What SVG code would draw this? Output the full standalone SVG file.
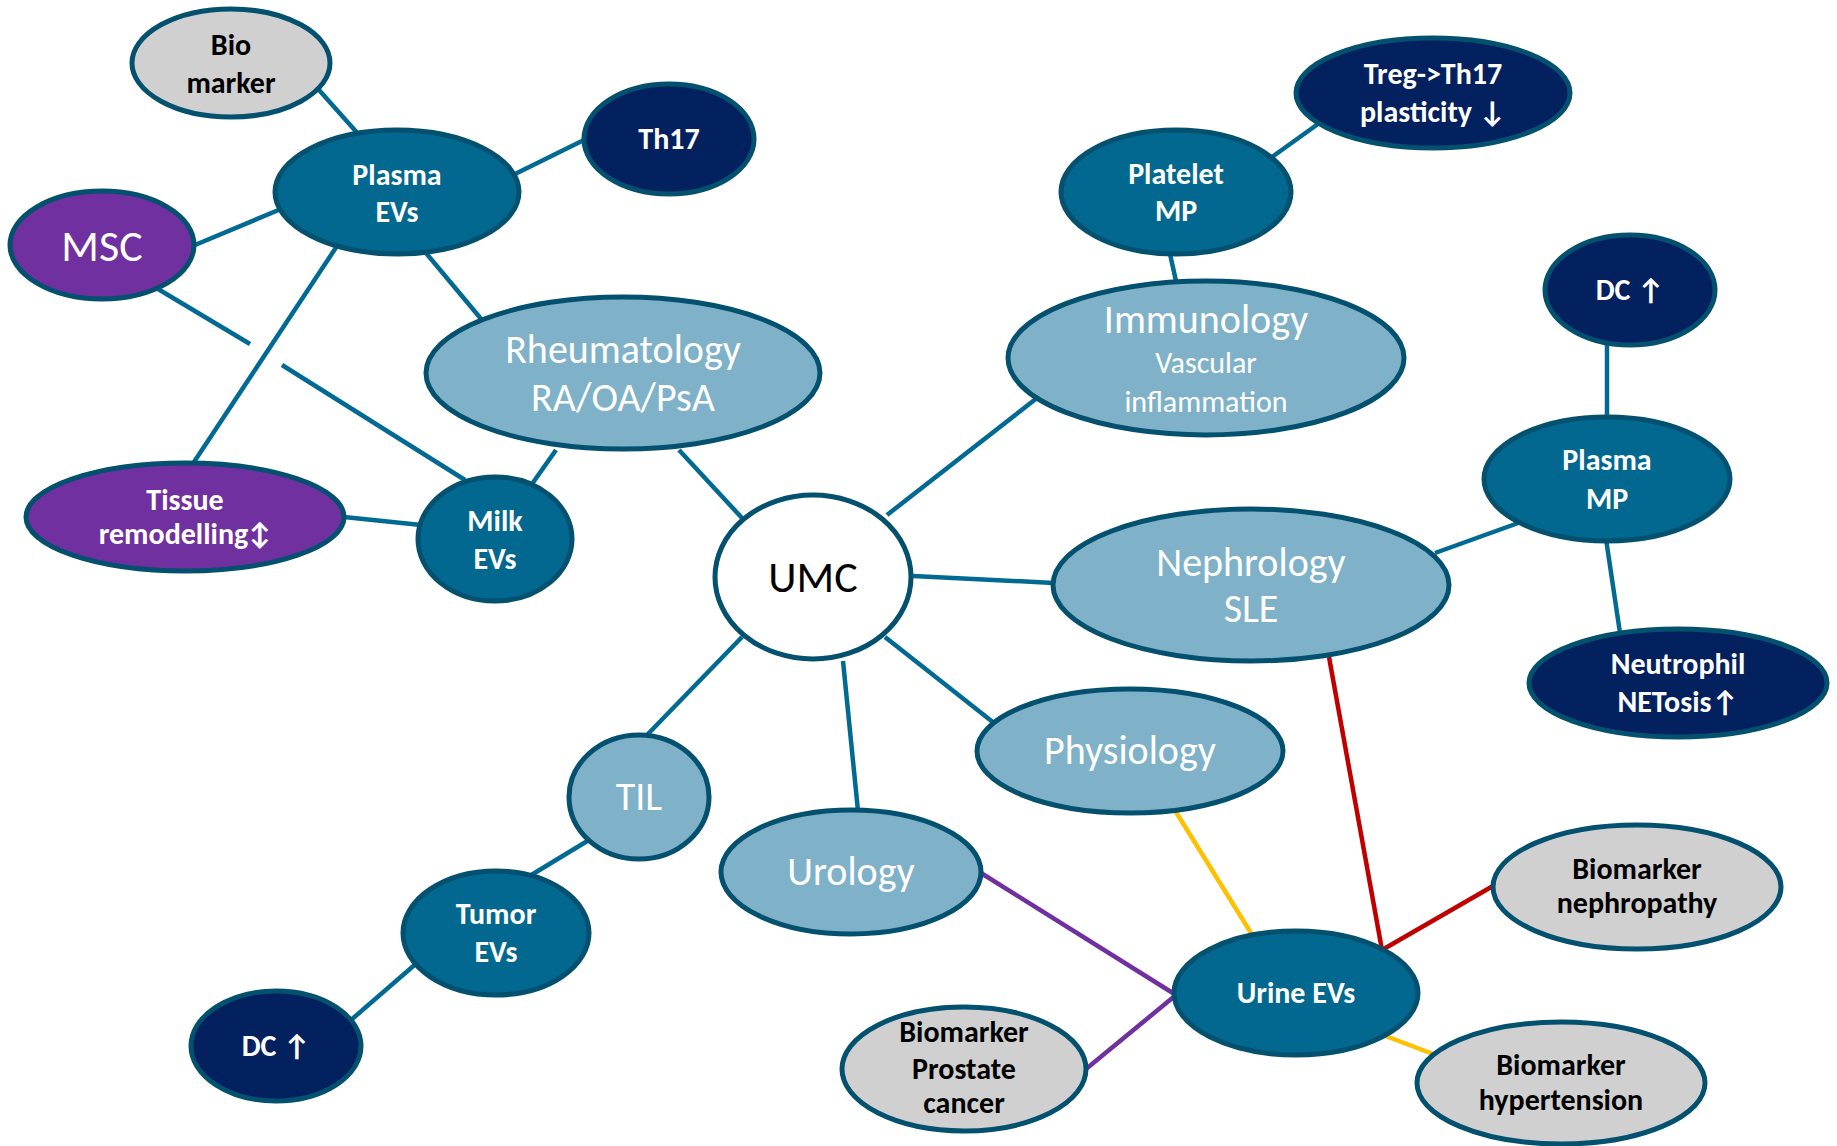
<svg xmlns="http://www.w3.org/2000/svg" width="1837" height="1146" viewBox="0 0 1837 1146">
<style>
.n{stroke:#03506f;stroke-width:5}
.dk{fill:#02688f}.lt{fill:#7fb2c8}.nv{fill:#03205f}.pu{fill:#7030a0}.gy{fill:#d0d0d0}.wh{fill:#ffffff}
text{font-family:Carlito,Lato,"Open Sans",sans-serif;text-anchor:middle}
.b{font-weight:bold;font-size:30px;fill:#fff}
.bk{font-weight:bold;font-size:30px;fill:#000}
.r{font-size:40px;fill:#fff}
.s{font-size:30px;fill:#fff}
.c line{stroke-width:4.5;stroke-linecap:butt}
.t{stroke:#006a93}.red{stroke:#c00000}.yl{stroke:#ffc000}.pl{stroke:#7030a0}
</style>
<rect width="1837" height="1146" fill="#fff"/>
<g id="connectors" class="c">
<line class="t" x1="319" y1="90" x2="360" y2="136"/>
<line class="t" x1="513" y1="175" x2="586" y2="139"/>
<line class="t" x1="195" y1="245" x2="281" y2="209"/>
<line class="t" x1="158" y1="289" x2="250" y2="344"/>
<line class="t" x1="282" y1="365" x2="465" y2="480"/>
<line class="t" x1="339" y1="243" x2="194" y2="462"/>
<line class="t" x1="426" y1="253" x2="482" y2="320"/>
<line class="t" x1="556" y1="450" x2="532" y2="484"/>
<line class="t" x1="679" y1="450" x2="742" y2="518"/>
<line class="t" x1="344" y1="517" x2="421" y2="525"/>
<line class="t" x1="1272" y1="157" x2="1318" y2="124"/>
<line class="t" x1="1170" y1="254" x2="1176" y2="281"/>
<line class="t" x1="1607" y1="344" x2="1607" y2="417"/>
<line class="t" x1="1037" y1="398" x2="887" y2="515"/>
<line class="t" x1="1435" y1="553" x2="1521" y2="522"/>
<line class="t" x1="1606" y1="539" x2="1620" y2="633"/>
<line class="t" x1="913" y1="576" x2="1054" y2="583"/>
<line class="t" x1="742" y1="637" x2="647" y2="735"/>
<line class="t" x1="589" y1="840" x2="528" y2="877"/>
<line class="t" x1="418" y1="962" x2="351" y2="1020"/>
<line class="t" x1="843" y1="661" x2="858" y2="811"/>
<line class="t" x1="885" y1="637" x2="994" y2="723"/>
<line class="yl" x1="1176" y1="812" x2="1251" y2="933"/>
<line class="red" x1="1329" y1="657" x2="1382" y2="950"/>
<line class="red" x1="1382" y1="950" x2="1493" y2="886"/>
<line class="pl" x1="981" y1="873" x2="1176" y2="995"/>
<line class="pl" x1="1176" y1="995" x2="1086" y2="1069"/>
<line class="yl" x1="1383" y1="1035" x2="1433" y2="1054"/>
</g>
<g id="biomarker-top"><ellipse class="n gy" cx="231" cy="63" rx="99" ry="54"/><text class="bk" x="231" y="55">Bio</text><text class="bk" x="231" y="93">marker</text></g>
<g id="plasma-evs"><ellipse class="n dk" cx="397" cy="192" rx="122" ry="62"/><text class="b" x="397" y="185">Plasma</text><text class="b" x="397" y="222">EVs</text></g>
<g id="th17"><ellipse class="n nv" cx="669" cy="139" rx="85" ry="55"/><text class="b" x="669" y="149">Th17</text></g>
<g id="msc"><ellipse class="n pu" cx="102" cy="245" rx="92" ry="54"/><text x="102" y="261" style="font-size:44px;fill:#fff">MSC</text></g>
<g id="rheumatology"><ellipse class="n lt" cx="623" cy="373" rx="197" ry="76"/><text class="r" x="623" y="363">Rheumatology</text><text class="r" x="623" y="411">RA/OA/PsA</text></g>
<g id="tissue"><ellipse class="n pu" cx="185" cy="517" rx="159" ry="54"/><text class="b" x="185" y="510">Tissue</text><text class="b" x="185" y="544">remodelling↕</text></g>
<g id="milk-evs"><ellipse class="n dk" cx="495" cy="539" rx="77" ry="62"/><text class="b" x="495" y="531">Milk</text><text class="b" x="495" y="569">EVs</text></g>
<g id="umc"><ellipse cx="813" cy="577" rx="98" ry="82" fill="#fff" stroke="#03506f" stroke-width="5"/><text x="813" y="592" style="font-size:44px;fill:#000">UMC</text></g>
<g id="platelet-mp"><ellipse class="n dk" cx="1176" cy="192" rx="115" ry="62"/><text class="b" x="1176" y="184">Platelet</text><text class="b" x="1176" y="221">MP</text></g>
<g id="treg"><ellipse class="n nv" cx="1433" cy="93" rx="137" ry="55"/><text class="b" x="1433" y="84">Treg-&gt;Th17</text><text class="b" x="1433" y="122">plasticity ↓</text></g>
<g id="immunology"><ellipse class="n lt" cx="1206" cy="358" rx="198" ry="77"/><text class="r" x="1206" y="333">Immunology</text><text class="s" x="1206" y="373">Vascular</text><text class="s" x="1206" y="412">inflammation</text></g>
<g id="dc-right"><ellipse class="n nv" cx="1630" cy="290" rx="85" ry="55"/><text class="b" x="1630" y="300">DC ↑</text></g>
<g id="plasma-mp"><ellipse class="n dk" cx="1607" cy="479" rx="123" ry="62"/><text class="b" x="1607" y="470">Plasma</text><text class="b" x="1607" y="509">MP</text></g>
<g id="nephrology"><ellipse class="n lt" cx="1251" cy="585" rx="198" ry="76"/><text class="r" x="1251" y="576">Nephrology</text><text class="r" x="1251" y="622">SLE</text></g>
<g id="neutrophil"><ellipse class="n nv" cx="1678" cy="683" rx="149" ry="54"/><text class="b" x="1678" y="674">Neutrophil</text><text class="b" x="1678" y="712">NETosis↑</text></g>
<g id="physiology"><ellipse class="n lt" cx="1130" cy="751" rx="153" ry="62"/><text class="r" x="1130" y="764">Physiology</text></g>
<g id="til"><ellipse class="n lt" cx="639" cy="797" rx="70" ry="62"/><text class="r" x="639" y="810">TIL</text></g>
<g id="urology"><ellipse class="n lt" cx="851" cy="872" rx="130" ry="62"/><text class="r" x="851" y="885">Urology</text></g>
<g id="tumor-evs"><ellipse class="n dk" cx="496" cy="933" rx="93" ry="62"/><text class="b" x="496" y="924">Tumor</text><text class="b" x="496" y="962">EVs</text></g>
<g id="dc-left"><ellipse class="n nv" cx="276" cy="1046" rx="85" ry="55"/><text class="b" x="276" y="1056">DC ↑</text></g>
<g id="urine-evs"><ellipse class="n dk" cx="1296" cy="993" rx="122" ry="62"/><text class="b" x="1296" y="1003">Urine EVs</text></g>
<g id="biomarker-nephropathy"><ellipse class="n gy" cx="1637" cy="887" rx="144" ry="62"/><text class="bk" x="1637" y="879">Biomarker</text><text class="bk" x="1637" y="913">nephropathy</text></g>
<g id="biomarker-prostate"><ellipse class="n gy" cx="964" cy="1069" rx="122" ry="62"/><text class="bk" x="964" y="1042">Biomarker</text><text class="bk" x="964" y="1079">Prostate</text><text class="bk" x="964" y="1113">cancer</text></g>
<g id="biomarker-hypertension"><ellipse class="n gy" cx="1561" cy="1083" rx="144" ry="61"/><text class="bk" x="1561" y="1075">Biomarker</text><text class="bk" x="1561" y="1110">hypertension</text></g>
</svg>
